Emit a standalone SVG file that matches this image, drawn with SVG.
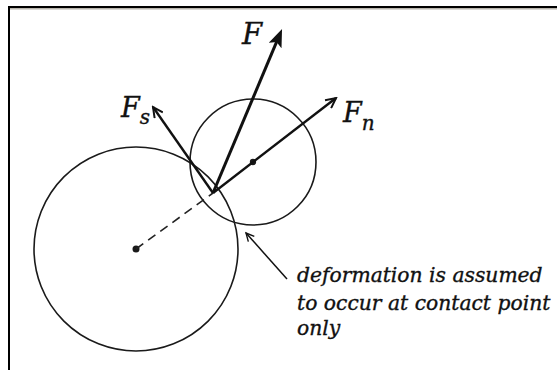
<svg xmlns="http://www.w3.org/2000/svg" width="557" height="370" viewBox="0 0 557 370">
  <style>
    .circ { fill: none; stroke: #1a1a1a; stroke-width: 1.6; }
    .dot { fill: #1a1a1a; }
    .force { stroke: #111; fill: none; stroke-linecap: butt; }
    .lbl { font-family: "DejaVu Serif", serif; font-style: italic; fill: #111; stroke: #111; stroke-width: 0.35; }
  </style>
  <defs>
    <marker id="headFilled" markerUnits="userSpaceOnUse" viewBox="0 0 18 14" refX="4" refY="7" markerWidth="18" markerHeight="14" orient="auto">
      <path d="M0,0 L18,7 L0,14 L4,7 Z" fill="#111"/>
    </marker>
    <marker id="headOpen" markerUnits="userSpaceOnUse" viewBox="-1 -1 13 12" refX="10" refY="5" markerWidth="13" markerHeight="12" orient="auto">
      <path d="M0,0 L10,5 L0,10" fill="none" stroke="#111" stroke-width="2" stroke-linejoin="miter"/>
    </marker>
    <marker id="headSmall" markerUnits="userSpaceOnUse" viewBox="-1 -1 11 10" refX="8" refY="4" markerWidth="11" markerHeight="10" orient="auto">
      <path d="M0,0 L8,4 L0,8" fill="none" stroke="#111" stroke-width="1.4"/>
    </marker>
  </defs>

  <rect x="0" y="0" width="557" height="370" fill="#ffffff"/>
  <!-- frame -->
  <rect x="8" y="6" width="549" height="2" fill="#000"/>
  <rect x="10" y="8" width="547" height="1.5" fill="#b8b4ac"/>
  <rect x="8" y="6" width="2" height="364" fill="#000"/>

  <g id="big-particle">
    <circle class="circ" cx="136" cy="249" r="102"/>
    <circle class="dot" cx="136" cy="249" r="3.5"/>
  </g>
  <g id="small-particle">
    <circle class="circ" cx="253" cy="162" r="63"/>
    <circle class="dot" cx="253" cy="162" r="3.2"/>
  </g>

  <g id="connectors">
    <line x1="136" y1="249" x2="213" y2="193" stroke="#222" stroke-width="1.6" stroke-dasharray="9,6"/>
    <line class="force" x1="213" y1="193" x2="276.6" y2="41.9" stroke-width="3" marker-end="url(#headFilled)"/>
    <line class="force" x1="213" y1="193" x2="153" y2="107" stroke-width="2.4" marker-end="url(#headOpen)"/>
    <line class="force" x1="213" y1="193" x2="336" y2="98" stroke-width="2.4" marker-end="url(#headOpen)"/>
    <line class="force" x1="287" y1="279" x2="246" y2="233" stroke-width="1.5" marker-end="url(#headSmall)"/>
  </g>

  <g id="label-F">
    <text class="lbl" x="242" y="44" font-size="29">F</text>
  </g>
  <g id="label-Fs">
    <text class="lbl" x="121" y="117" font-size="27">F<tspan font-size="20" dy="7">s</tspan></text>
  </g>
  <g id="label-Fn">
    <text class="lbl" x="343" y="122" font-size="27">F<tspan font-size="20" dy="8">n</tspan></text>
  </g>
  <g id="note">
    <text class="lbl" font-size="20.3">
      <tspan x="297" y="282">deformation is assumed</tspan>
      <tspan x="297" y="310">to occur at contact point</tspan>
      <tspan x="297" y="335">only</tspan>
    </text>
  </g>
</svg>
